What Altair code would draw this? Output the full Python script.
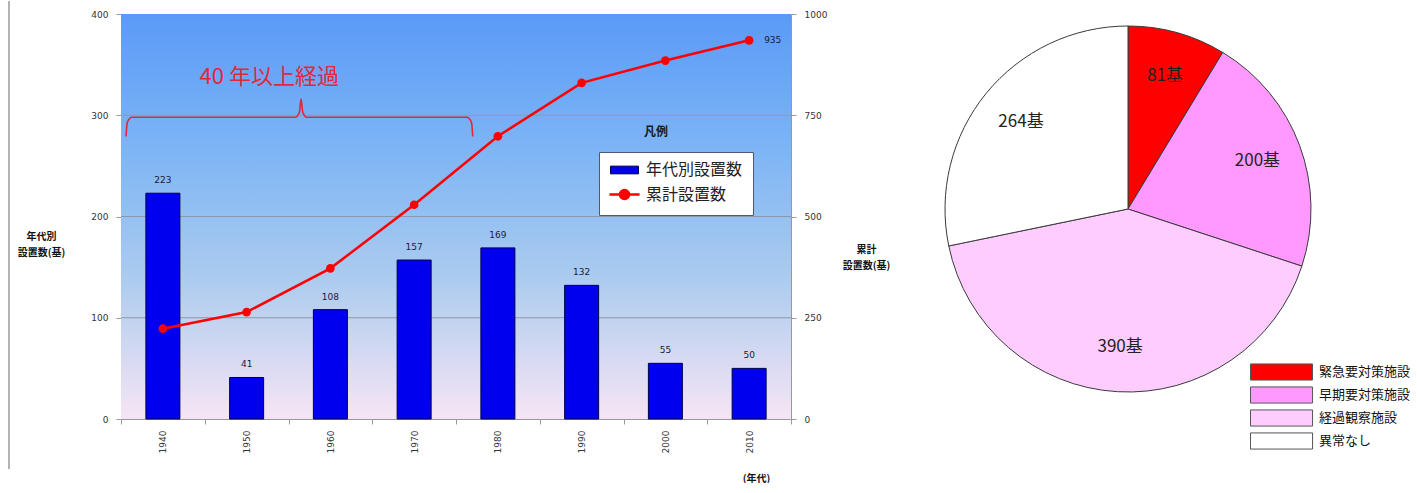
import altair as alt
import pandas as pd

# ---------------- data ----------------
decades = ["1940", "1950", "1960", "1970", "1980", "1990", "2000", "2010"]
installs = [223, 41, 108, 157, 169, 132, 55, 50]
cumulative = [223, 264, 372, 529, 698, 830, 885, 935]
left_ticks = [0, 100, 200, 300, 400]
right_ticks = [0, 250, 500, 750, 1000]
grid_values = [100, 200, 300]

series_names = ["年代別設置数", "累計設置数"]

bracket_year = [1935.6, 1935.75, 1936.3, 1955.8, 1956.3, 1956.5, 1956.7, 1957.2, 1976.3, 1976.85, 1977.0]
bracket_val = [279, 293, 298, 298, 303, 316, 303, 298, 298, 293, 279]
annotation_text = ["40 年以上経過"]
annotation_year = [1952.7]
annotation_val = [338]

pie_categories = ["緊急要対策施設", "早期要対策施設", "経過観察施設", "異常なし"]
pie_values = [81, 200, 390, 264]
pie_labels = ["81基", "200基", "390基", "264基"]
pie_colors = ["#FF0000", "#FF99FF", "#FFCCFF", "#FFFFFF"]

# ---------------- sizes ----------------
W, H = 670, 405
JP = "Noto Sans CJK JP"
TICKFONT = "DejaVu Sans"

bar_df = pd.DataFrame({"decade": decades, "installs": installs, "cumulative": cumulative})

# background gradient
bg = alt.Chart(alt.Data(values=[{"a": 1}])).mark_rect(
    fill=alt.Gradient(
        gradient="linear",
        stops=[alt.GradientStop(color="#5A9AF8", offset=0),
               alt.GradientStop(color="#7FB6F5", offset=0.35),
               alt.GradientStop(color="#ABCBEF", offset=0.65),
               alt.GradientStop(color="#F6E5F4", offset=1)],
        x1=0, x2=0, y1=0, y2=1),
).encode(x=alt.value(0), x2=alt.value(W), y=alt.value(0), y2=alt.value(H))

frame = alt.Chart(alt.Data(values=[{"a": 1}])).mark_rule(color="#9a9a9a", strokeWidth=1.5).encode(
    x=alt.value(-112), y=alt.value(-13), y2=alt.value(455))

# left group: grid, bars, bar labels
y_left = alt.Scale(domain=[0, 400], nice=False)
grid = alt.Chart(pd.DataFrame({"v": grid_values})).mark_rule(color="#8E99A8", strokeWidth=1).encode(
    y=alt.Y("v:Q", scale=y_left))

bars = alt.Chart(bar_df).mark_bar(width=34, fill="#0000EE", stroke="#00004A", strokeWidth=1).encode(
    x=alt.X("decade:N", sort=decades,
            scale=alt.Scale(domain=decades, paddingInner=0, paddingOuter=0),
            axis=alt.Axis(title="(年代)", labelAngle=270, labelFontSize=9, labelFont=TICKFONT,
                          labelColor="#333333", tickBand="extent", tickSize=5, tickColor="#999999",
                          domainColor="#999999", labelPadding=6, titleX=635, titleY=54,
                          titleFont=JP, titleFontSize=10, titleFontWeight="bold", titleColor="#111111")),
    y=alt.Y("installs:Q", scale=y_left,
            axis=alt.Axis(values=left_ticks, grid=False, tickSize=5, tickColor="#999999",
                          domainColor="#999999", labelFont=TICKFONT, labelFontSize=9,
                          labelColor="#333333", labelPadding=8,
                          title=["年代別", "設置数(基)"], titleAngle=0, titleX=-80, titleY=217,
                          titleAlign="center", titleBaseline="top", titleLineHeight=16,
                          titleFont=JP, titleFontSize=10, titleFontWeight="bold", titleColor="#111111")),
)
bar_text = alt.Chart(bar_df).mark_text(baseline="bottom", dy=-8, fontSize=9, font=TICKFONT,
                                       color="#1a1a3a").encode(
    x=alt.X("decade:N", sort=decades), y=alt.Y("installs:Q", scale=y_left), text="installs:Q")
left_group = alt.layer(grid, bars, bar_text)

# bracket annotation
br_df = pd.DataFrame({"yr": bracket_year, "v": bracket_val, "i": list(range(len(bracket_year)))})
ann_df = pd.DataFrame({"yr": annotation_year, "v": annotation_val, "t": annotation_text})
bx = alt.Scale(domain=[1935, 2015], nice=False, zero=False)
by = alt.Scale(domain=[0, 400], nice=False)
bracket = alt.Chart(br_df).mark_line(color="#E0283A", strokeWidth=1.6, interpolate="monotone").encode(
    x=alt.X("yr:Q", scale=bx, axis=None), y=alt.Y("v:Q", scale=by, axis=None), order="i:Q")
ann = alt.Chart(ann_df).mark_text(fontSize=22, font=JP, color="#E0283A").encode(
    x=alt.X("yr:Q", scale=bx, axis=None), y=alt.Y("v:Q", scale=by, axis=None), text="t:N")
bracket_group = alt.layer(bracket, ann)

# right group: cumulative line
y_right = alt.Scale(domain=[0, 1000], nice=False)
line = alt.Chart(bar_df).mark_line(color="#FF0000", strokeWidth=2.5).encode(
    x=alt.X("decade:N", sort=decades,
            scale=alt.Scale(domain=decades, paddingInner=0, paddingOuter=0), axis=None),
    y=alt.Y("cumulative:Q", scale=y_right,
            axis=alt.Axis(orient="right", values=right_ticks, format="d", grid=False, tickSize=5,
                          tickColor="#999999", domainColor="#999999", labelFont=TICKFONT,
                          labelFontSize=9, labelColor="#333333", labelPadding=8,
                          title=["累計", "設置数(基)"], titleAngle=0, titleX=75, titleY=230,
                          titleAlign="center", titleBaseline="top", titleLineHeight=16,
                          titleFont=JP, titleFontSize=10, titleFontWeight="bold", titleColor="#111111")))
pts = alt.Chart(bar_df).mark_circle(size=75, color="#FF0000", opacity=1).encode(
    x=alt.X("decade:N", sort=decades), y=alt.Y("cumulative:Q", scale=y_right))
end_text = alt.Chart(bar_df).transform_filter(alt.datum.decade == decades[-1]).mark_text(
    align="left", dx=15, fontSize=9, font=TICKFONT, color="#1a1a3a").encode(
    x=alt.X("decade:N", sort=decades), y=alt.Y("cumulative:Q", scale=y_right), text="cumulative:Q")

rect_path = "M-1,-0.55L3,-0.55L3,0.55L-1,0.55Z"
line_path = "M-1.15,0L3.15,0M0.35,0A0.65,0.65 0 1,1 1.65,0A0.65,0.65 0 1,1 0.35,0Z"
leg_df = pd.DataFrame({"s": series_names})
leg_cfg = alt.Legend(title=None, orient="none", legendX=478, legendY=138,
                     fillColor="#FFFFFF", strokeColor="#4a5a78", padding=10,
                     symbolSize=196, symbolOpacity=1, labelOffset=20,
                     labelFont=JP, labelFontSize=16, labelColor="#222222",
                     rowPadding=6, labelLimit=200)
legend_layer = alt.Chart(leg_df).mark_point(opacity=0, size=196, filled=True).encode(
    fill=alt.Fill("s:N", scale=alt.Scale(domain=series_names, range=["#0000EE", "#FF0000"]),
                  legend=leg_cfg),
    stroke=alt.Stroke("s:N", scale=alt.Scale(domain=series_names, range=["#00004A", "#FF0000"]),
                      legend=leg_cfg),
    shape=alt.Shape("s:N", scale=alt.Scale(domain=series_names, range=[rect_path, line_path]),
                    legend=leg_cfg),
    strokeWidth=alt.StrokeWidth("s:N", scale=alt.Scale(domain=series_names, range=[1, 2.5]),
                                legend=leg_cfg),
)
legend_title = alt.Chart(alt.Data(values=[{"t": "凡例"}])).mark_text(
    fontSize=12, font=JP, fontWeight="bold", color="#1a1a1a").encode(
    x=alt.value(535), y=alt.value(118), text="t:N")
right_group = alt.layer(line, pts, end_text, legend_layer)

left_chart = alt.layer(frame, bg, left_group, bracket_group, right_group, legend_title).resolve_scale(
    x="independent", y="independent"
).properties(width=W, height=H)

# ---------------- pie ----------------
pie_df = pd.DataFrame({"cat": pie_categories, "val": pie_values, "lab": pie_labels,
                       "idx": list(range(len(pie_values)))})
PW, PH = 420, 390
base = alt.Chart(pie_df).encode(theta=alt.Theta("val:Q", stack=True), order=alt.Order("idx:Q"))
pie_rect = "M-1,-0.95L6.3,-0.95L6.3,0.95L-1,0.95Z"
arcs = base.mark_arc(radius=183, stroke="#3a3a3a", strokeWidth=1).encode(
    fill=alt.Fill("cat:N", sort=pie_categories,
                  scale=alt.Scale(domain=pie_categories, range=pie_colors),
                  legend=alt.Legend(title=None, orient="none", legendX=332, legendY=349,
                                    symbolType=pie_rect, symbolSize=289, symbolStrokeColor="#555555",
                                    symbolStrokeWidth=1, labelOffset=51, labelFont=JP,
                                    labelFontSize=13, labelColor="#111111", rowPadding=1,
                                    padding=0, labelLimit=200)))
pie_text = base.mark_text(radius=138, fontSize=17, font=JP, color="#222222").encode(text="lab:N")
pie = alt.layer(arcs, pie_text).properties(width=PW, height=PH)

chart = alt.hconcat(left_chart, pie, spacing=28).resolve_scale(
    fill="independent", stroke="independent", shape="independent", strokeWidth="independent"
).properties(
    padding={"left": 8, "top": 0, "right": 0, "bottom": 0}
).configure_view(stroke=None)

chart.save("out.html", embed_options={"renderer": "svg", "actions": False})
